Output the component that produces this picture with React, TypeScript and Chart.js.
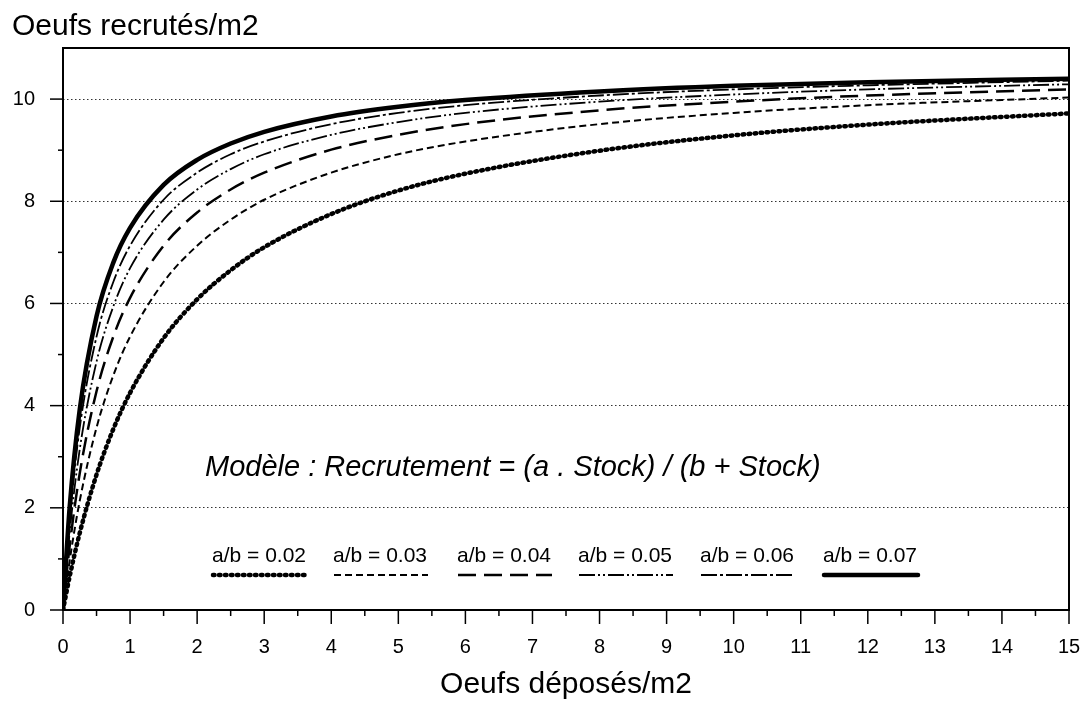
import { useEffect, useRef } from "react";
import { Chart, registerables } from "chart.js";

Chart.register(...registerables);

// Stock (eggs laid per m2) sample positions read along the x axis
const stock = [0, 0.1, 0.25, 0.5, 0.75, 1, 1.5, 2, 2.5, 3, 4, 5, 6, 8, 10, 12, 15];

// Recruited eggs per m2 for each a/b ratio
const r002 = [0, 0.66, 1.51, 2.65, 3.54, 4.25, 5.32, 6.08, 6.65, 7.1, 7.75, 8.21, 8.54, 8.99, 9.29, 9.5, 9.72];
const r003 = [0, 0.97, 2.14, 3.57, 4.59, 5.35, 6.42, 7.13, 7.64, 8.03, 8.56, 8.92, 9.17, 9.51, 9.73, 9.88, 10.03];
const r004 = [0, 1.26, 2.68, 4.28, 5.35, 6.11, 7.13, 7.78, 8.23, 8.56, 9.01, 9.3, 9.51, 9.78, 9.95, 10.07, 10.19];
const r005 = [0, 1.53, 3.15, 4.86, 5.94, 6.69, 7.64, 8.23, 8.63, 8.92, 9.3, 9.55, 9.73, 9.95, 10.09, 10.19, 10.29];
const r006 = [0, 1.78, 3.57, 5.35, 6.42, 7.13, 8.03, 8.56, 8.92, 9.17, 9.51, 9.73, 9.88, 10.07, 10.19, 10.27, 10.36];
const r007 = [0, 2.02, 3.93, 5.75, 6.8, 7.48, 8.32, 8.81, 9.13, 9.36, 9.66, 9.85, 9.98, 10.15, 10.26, 10.33, 10.4];

const seriesLabels = ["a/b = 0.02", "a/b = 0.03", "a/b = 0.04", "a/b = 0.05", "a/b = 0.06", "a/b = 0.07"];
const seriesValues = [r002, r003, r004, r005, r006, r007];

const yTickValues = [0, 2, 4, 6, 8, 10];
const xTickValues = [0, 1, 2, 3, 4, 5, 6, 7, 8, 9, 10, 11, 12, 13, 14, 15];

const yTitle = "Oeufs recrutés/m2";
const xTitle = "Oeufs déposés/m2";
const modelText = "Modèle : Recrutement = (a . Stock) / (b + Stock)";

// Styles (kept apart from data)
const FONT = '"Liberation Sans", Arial, Helvetica, sans-serif';
type LineStyle = { width: number; dash: number[]; cap: CanvasLineCap };
const lineStyles: LineStyle[] = [
  { width: 4.5, dash: [1.5, 4.5], cap: "round" },
  { width: 2, dash: [7, 4], cap: "butt" },
  { width: 2.5, dash: [18, 8], cap: "butt" },
  { width: 1.8, dash: [16, 3, 2, 3, 2, 3], cap: "butt" },
  { width: 1.8, dash: [16, 3, 3, 3], cap: "butt" },
  { width: 4.5, dash: [], cap: "round" },
];
const legendX = [212, 333, 457, 578, 700, 823];

const overlayPlugin = {
  id: "overlay",
  afterDraw(chart: any) {
    const { ctx, chartArea } = chart;
    const xs = chart.scales.x;
    const ys = chart.scales.y;
    ctx.save();
    ctx.strokeStyle = "#000";
    ctx.fillStyle = "#000";
    // frame
    ctx.lineWidth = 2;
    ctx.setLineDash([]);
    ctx.strokeRect(chartArea.left, chartArea.top, chartArea.right - chartArea.left, chartArea.bottom - chartArea.top);
    // y ticks
    ctx.lineWidth = 1.5;
    for (let v = 0; v <= 10; v++) {
      const y = ys.getPixelForValue(v);
      const len = v % 2 === 0 ? 13 : 5;
      ctx.beginPath();
      ctx.moveTo(chartArea.left - len, y);
      ctx.lineTo(chartArea.left, y);
      ctx.stroke();
    }
    // x ticks
    for (let v = 0; v <= 15; v += 0.5) {
      const x = xs.getPixelForValue(v);
      const len = Number.isInteger(v) ? 14 : 6;
      ctx.beginPath();
      ctx.moveTo(x, chartArea.bottom);
      ctx.lineTo(x, chartArea.bottom + len);
      ctx.stroke();
    }
    // y title
    ctx.font = `30px ${FONT}`;
    ctx.textBaseline = "alphabetic";
    ctx.textAlign = "left";
    ctx.fillText(yTitle, 12, 35);
    // model text
    ctx.font = `italic 29px ${FONT}`;
    ctx.fillText(modelText, 205, 476);
    // legend
    ctx.font = `21px ${FONT}`;
    seriesLabels.forEach((label, i) => {
      const x0 = legendX[i];
      ctx.fillText(label, x0, 562);
      const st = lineStyles[i];
      ctx.lineWidth = st.width;
      ctx.setLineDash(st.dash);
      ctx.lineCap = st.cap;
      ctx.beginPath();
      ctx.moveTo(x0 + 1, 575);
      ctx.lineTo(x0 + 95, 575);
      ctx.stroke();
    });
    ctx.restore();
  },
};

export default function App() {
  const canvasRef = useRef<HTMLCanvasElement | null>(null);

  useEffect(() => {
    document.body.style.margin = "0";
    const canvas = canvasRef.current;
    if (!canvas) return;
    const datasets = seriesValues.map((vals, i) => ({
      label: seriesLabels[i],
      data: stock.map((x, j) => ({ x, y: vals[j] })),
      borderColor: "#000",
      backgroundColor: "#000",
      borderWidth: lineStyles[i].width,
      borderDash: lineStyles[i].dash,
      borderCapStyle: lineStyles[i].cap,
      pointRadius: 0,
      fill: false,
      cubicInterpolationMode: "monotone" as const,
    }));
    const chart = new Chart(canvas, {
      type: "line",
      data: { datasets },
      plugins: [overlayPlugin],
      options: {
        animation: false,
        responsive: true,
        maintainAspectRatio: false,
        layout: { padding: { top: 48, right: 15, left: 0, bottom: 0 } },
        plugins: { legend: { display: false }, tooltip: { enabled: false }, title: { display: false } },
        scales: {
          x: {
            type: "linear",
            min: 0,
            max: 15,
            afterFit: (s: any) => {
              s.height = 91;
              s.paddingLeft = 0;
              s.paddingRight = 0;
            },
            grid: { display: false, drawTicks: false },
            border: { display: false },
            ticks: {
              stepSize: 1,
              autoSkip: false,
              maxRotation: 0,
              padding: 25,
              color: "#000",
              font: { family: FONT, size: 20 },
              callback: (v: any) => (xTickValues.includes(Number(v)) ? String(v) : ""),
            },
            title: {
              display: true,
              text: xTitle,
              color: "#000",
              font: { family: FONT, size: 30, lineHeight: 1 },
              padding: { top: 0, bottom: 1 },
            },
          },
          y: {
            type: "linear",
            min: 0,
            max: 11,
            afterFit: (s: any) => {
              s.width = 63;
              s.paddingTop = 0;
              s.paddingBottom = 0;
            },
            grid: {
              drawTicks: false,
              lineWidth: 1,
              color: (c: any) => {
                const v = c.tick ? c.tick.value : -1;
                return v > 0 && v <= 10 && v % 2 === 0 ? "#333" : "rgba(0,0,0,0)";
              },
            },
            border: { display: false, dash: [1.5, 2.5] },
            ticks: {
              stepSize: 1,
              autoSkip: false,
              padding: 28,
              color: "#000",
              font: { family: FONT, size: 20 },
              callback: (v: any) => (yTickValues.includes(Number(v)) ? String(v) : ""),
            },
          },
        },
      },
    });
    return () => chart.destroy();
  }, []);

  return (
    <div style={{ width: 1084, height: 701, position: "relative", background: "#fff" }}>
      <canvas ref={canvasRef} />
    </div>
  );
}
